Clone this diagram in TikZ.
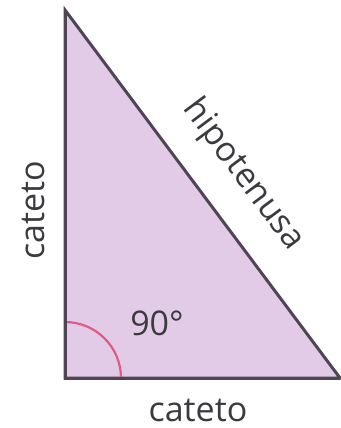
\documentclass[tikz,border=0pt]{standalone}
\usepackage{fontspec}
\setmainfont{Open Sans}
\definecolor{lila}{RGB}{226,203,230}
\definecolor{borde}{RGB}{78,70,84}
\definecolor{arco}{RGB}{222,92,132}
\definecolor{texto}{RGB}{60,58,62}

\begin{document}
\begin{tikzpicture}
	[x=0.5pt,y=-0.5pt,
	lado/.style={draw=borde,line width=1.5pt,line join=miter,fill=lila},
	etiqueta/.style={text=texto,font=\fontsize{17}{20}\selectfont,inner sep=0pt}]
	\useasboundingbox (0,0) rectangle (341,428);
	\coordinate (A) at (65,10);
	\coordinate (C) at (65,378);
	\coordinate (B) at (340,378);
	
	\draw[lado] (A) -- (C) -- (B) -- cycle;
	\draw[arco,line width=1.1pt] (121,378) arc[start angle=0,end angle=-90,radius=56];
	\draw[borde,line width=1.5pt] (A) -- (C) -- (B);
	
	\node[etiqueta,rotate=90] (c1) at (33,210) {cateto};
	\node[etiqueta] (c2) at (198,410) {cateto};
	\node[etiqueta] (ang) at (157,323) {90°};
	\path (A) -- (B) node[etiqueta,pos=0.52,sloped,yshift=22pt] (hip) {hipotenusa};
\end{tikzpicture}
\end{document}
